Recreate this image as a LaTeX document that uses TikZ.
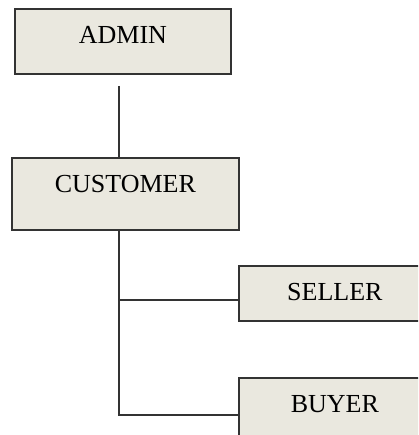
\documentclass[tikz,border=0pt]{standalone}
\usepackage{fontspec}
\setmainfont{Liberation Serif}
\usetikzlibrary{calc}
\definecolor{boxfill}{HTML}{EAE8DF}
\definecolor{boxline}{HTML}{333333}
\begin{document}
\begin{tikzpicture}[x=1pt,y=-1pt,
    entity/.style={draw=boxline,fill=boxfill,line width=1.8pt,inner sep=0pt,
      font=\fontsize{26}{30}\selectfont,text height=35pt,anchor=north west},
    link/.style={draw=boxline,line width=1.6pt}]
        \useasboundingbox (0,0) rectangle (418,435);
        \clip (0,0) rectangle (418,435);
        % boxes
        \node[entity,minimum width=216pt,text depth=30pt] (admin) at (14,8) {ADMIN};
        \node[entity,minimum width=227pt,text depth=37pt] (customer) at (11,157) {CUSTOMER};
        \node[entity,minimum width=192pt,text depth=20pt] (seller) at (238,265) {SELLER};
        \node[entity,minimum width=192pt,text depth=40pt] (buyer) at (238,377) {BUYER};
        % joints
        \coordinate (top) at (119,86);
        \coordinate (sj) at (119,300);
        \coordinate (bj) at (119,415);
        \draw[link] (top) -- (top |- customer.north);
        \draw[link] (customer.south -| top) -- (bj) -- (bj -| buyer.west);
        \draw[link] (sj) -- (sj -| seller.west);
      \end{tikzpicture}
\end{document}
